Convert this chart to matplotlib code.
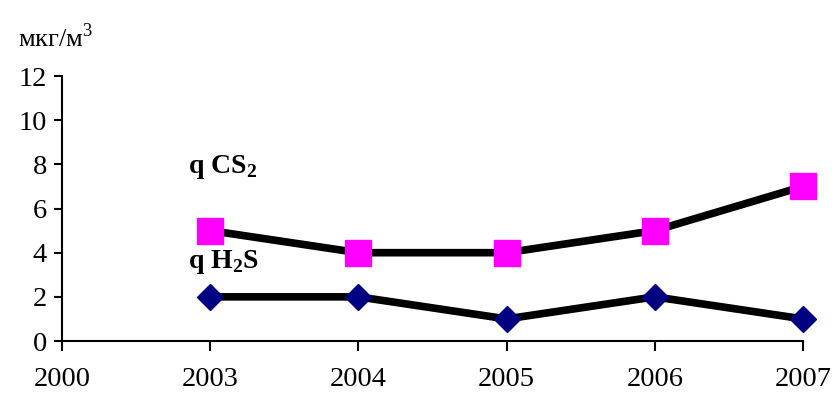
import matplotlib
matplotlib.use("Agg")
import matplotlib.pyplot as plt

# Годы и концентрации, мкг/м3
years = ["2000", "2003", "2004", "2005", "2006", "2007"]
cs2 = [None, 5, 4, 4, 5, 7]
h2s = [None, 2, 2, 1, 2, 1]
y_ticks = [0, 2, 4, 6, 8, 10, 12]

plt.rcParams["font.family"] = "Liberation Serif"
plt.rcParams["mathtext.fontset"] = "custom"
plt.rcParams["mathtext.rm"] = "Liberation Serif"
plt.rcParams["mathtext.bf"] = "Liberation Serif:bold"

fig = plt.figure(figsize=(8.35, 3.94), dpi=100)
ax = fig.add_axes([0.0743, 0.1345, 0.8874, 0.6725])

x = list(range(len(years)))
xs = [i for i, v in zip(x, cs2) if v is not None]
ax.plot(xs, [v for v in cs2 if v is not None], color="black", lw=5.5,
        marker="s", markersize=19, markerfacecolor="#ff00ff",
        markeredgecolor="#ff00ff", zorder=3, clip_on=False)
ax.plot(xs, [v for v in h2s if v is not None], color="black", lw=5.5,
        marker="D", markersize=13.5, markerfacecolor="#000080",
        markeredgecolor="#000080", zorder=3, clip_on=False)

ax.set_xlim(0, len(years) - 1)
ax.set_ylim(0, 12)
ax.set_xticks(x)
ax.set_xticklabels(years)
ax.set_yticks(y_ticks)
ax.tick_params(axis="both", labelsize=20.5, width=1.5, direction="out")
ax.tick_params(axis="x", length=7, pad=12)
ax.tick_params(axis="y", length=6, pad=5)
for s in ["top", "right"]:
    ax.spines[s].set_visible(False)
for s in ["left", "bottom"]:
    ax.spines[s].set_linewidth(1.5)

ax.text(0.85, 7.9, r"q CS$_\mathbf{2}$", fontsize=20, fontweight="bold",
        ha="left", va="center")
ax.text(0.85, 3.6, r"q H$_\mathbf{2}$S", fontsize=20, fontweight="bold",
        ha="left", va="center")
fig.text(0.021, 0.905, r"мкг/м$^3$", fontsize=19, ha="left", va="center")

fig.savefig("out.png", dpi=100)
